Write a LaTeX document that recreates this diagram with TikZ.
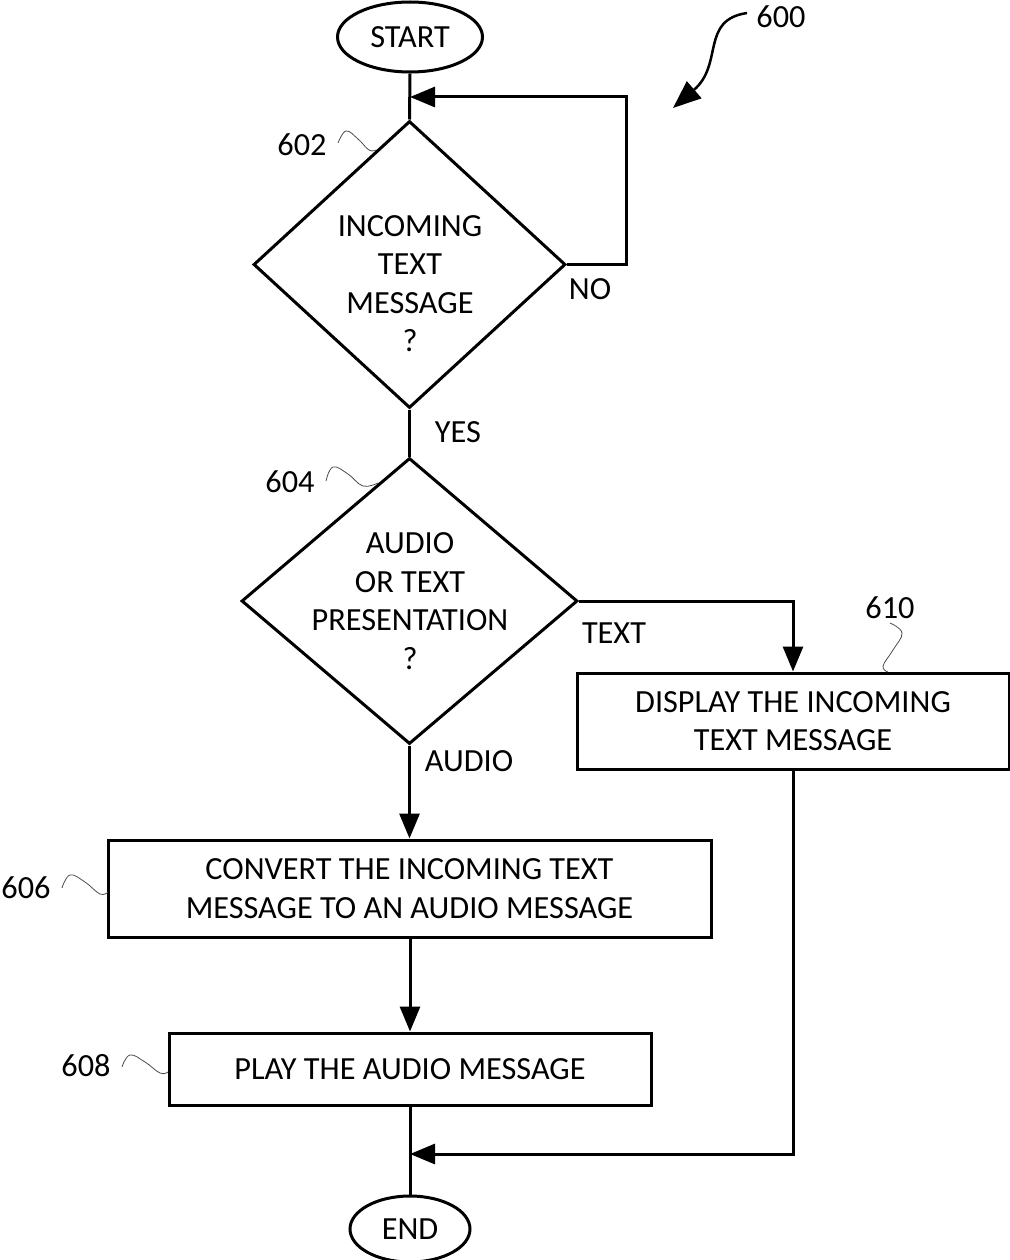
\documentclass[tikz,border=0pt]{standalone}
\usepackage{fontspec}
\setmainfont{Carlito}
\usetikzlibrary{shapes.geometric,arrows.meta}
\begin{document}
\begin{tikzpicture}[x=1pt,y=-1pt,line width=3pt,
  every node/.style={font=\fontsize{32.3}{38.5}\selectfont},
  term/.style={ellipse,draw,inner sep=0pt},
  dec/.style={diamond,draw,inner sep=0pt,aspect=1},
  proc/.style={rectangle,draw,inner sep=0pt,align=center},
  txt/.style={inner sep=0pt,align=center},
  arr/.style={-{Triangle[length=25pt,width=20pt]}},
  lead/.style={line width=0.8pt,black!70},
]
\useasboundingbox (0,0) rectangle (1009,1260);
% nodes
\node[term,minimum width=145pt,minimum height=70pt] (start) at (410,37) {START};
\node[dec,minimum width=312pt,minimum height=287pt] (d602) at (409.5,264.5) {};
\node[txt] (t602) at (410,283.5) {INCOMING\\TEXT\\MESSAGE\\?};
\node[dec,minimum width=336pt,minimum height=286pt] (d604) at (409.5,601) {};
\node[txt] (t604) at (410,601) {AUDIO\\OR TEXT\\PRESENTATION\\?};
\node[proc,minimum width=432pt,minimum height=96pt] (b610) at (793,721) {DISPLAY THE INCOMING\\TEXT MESSAGE};
\node[proc,minimum width=603pt,minimum height=97pt] (b606) at (409.5,888.5) {CONVERT THE INCOMING TEXT\\MESSAGE TO AN AUDIO MESSAGE};
\node[proc,minimum width=482pt,minimum height=72pt] (b608) at (410,1069) {PLAY THE AUDIO MESSAGE};
\node[term,minimum width=120pt,minimum height=66pt] (end) at (410,1229) {END};
% labels
\node[txt] (l600) at (781,17) {600};
\node[txt] (l602) at (302,145) {602};
\node[txt] (l604) at (290,482) {604};
\node[txt] (l606) at (26,888) {606};
\node[txt] (l608) at (86,1066) {608};
\node[txt] (l610) at (890,608) {610};
\node[txt] (lno) at (590,289) {NO};
\node[txt] (lyes) at (458,432) {YES};
\node[txt] (ltext) at (614,633) {TEXT};
\node[txt] (laudio) at (469,761) {AUDIO};
% junctions
\coordinate (j1) at (410,97);
\coordinate (c1) at (626,264.5);
\coordinate (j2) at (410,1154);
% connectors
\draw (start.south) -- (d602.north);
\draw[arr] (d602.east) -- (c1) |- (j1);
\draw (d602.south) -- (d604.north);
\draw[arr] (d604.east) -| (b610.north);
\draw[arr] (d604.south) -- (d604.south |- b606.north);
\draw[arr] (b606.south -| b608.north) -- (b608.north);
\draw (b608.south) -- (end.north);
\draw[arr] (b610.south) |- (j2);
% 600 pointer
\coordinate (p600) at (747,13);
\coordinate (q600) at (673,108);
\draw[line width=2.5pt,-{Triangle[length=28pt,width=22pt]}] (p600) .. controls (700,20) and (724,64) .. (q600);
% leaders
\draw[lead] plot[smooth,tension=0.7] coordinates {(338,143) (346,131) (358,139) (369,150) (376,150)};
\draw[lead] plot[smooth,tension=0.7] coordinates {(326,481) (333,467) (348,474) (363,486) (378,483)};
\draw[lead] plot[smooth,tension=0.7] coordinates {(62,888) (70,875) (85,882) (100,894) (108,892)};
\draw[lead] plot[smooth,tension=0.7] coordinates {(122,1067) (130,1055) (145,1062) (160,1073) (168,1072)};
\draw[lead] plot[smooth,tension=0.7] coordinates {(890,623) (902,633) (893,650) (883,666) (888,672)};
\end{tikzpicture}
\end{document}
